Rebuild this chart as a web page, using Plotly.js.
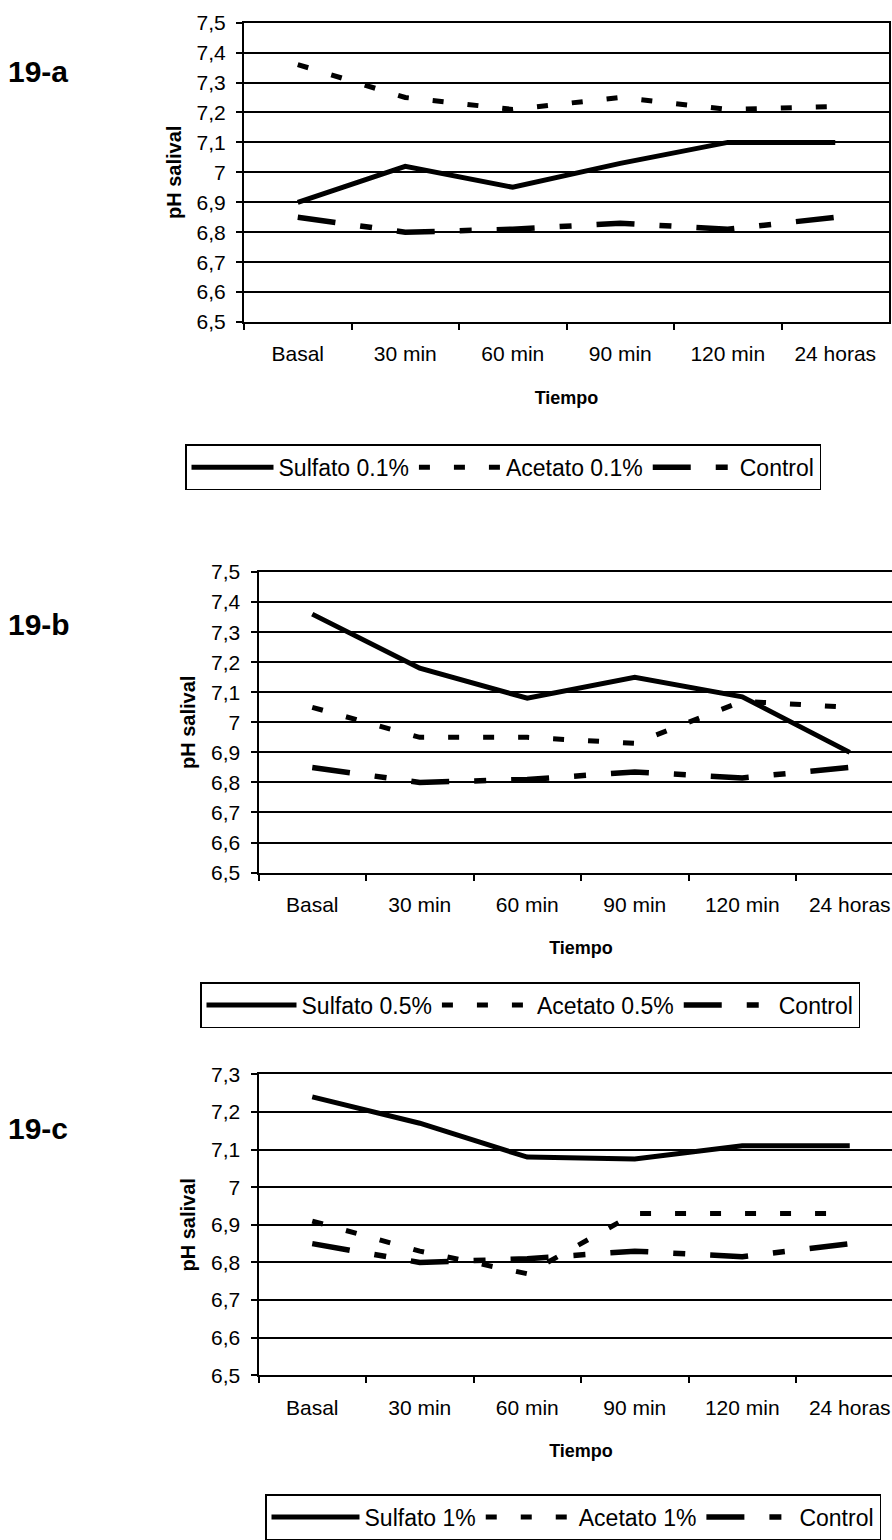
<!DOCTYPE html>
<html>
<head>
<meta charset="utf-8">
<script src="https://cdn.plot.ly/plotly-3.0.1.min.js"></script>
<style>
html,body{margin:0;padding:0;overflow:hidden;background:#fff;}
#chart{width:910px;height:1540px;}
</style>
</head>
<body>
<div id="chart"></div>
<script>
// ---- data ----
const categories = ["Basal", "30 min", "60 min", "90 min", "120 min", "24 horas"];

const sulfato01 = [6.90, 7.02, 6.95, 7.03, 7.10, 7.10];
const acetato01 = [7.36, 7.25, 7.21, 7.25, 7.21, 7.22];
const control01 = [6.85, 6.80, 6.81, 6.83, 6.81, 6.85];

const sulfato05 = [7.36, 7.18, 7.08, 7.15, 7.085, 6.90];
const acetato05 = [7.05, 6.95, 6.95, 6.93, 7.07, 7.05];
const control05 = [6.85, 6.80, 6.81, 6.835, 6.815, 6.85];

const sulfato1 = [7.24, 7.17, 7.08, 7.075, 7.11, 7.11];
const acetato1 = [6.91, 6.83, 6.77, 6.93, 6.93, 6.93];
const control1 = [6.85, 6.80, 6.81, 6.83, 6.815, 6.85];

const seriesNamesA = ["Sulfato 0.1%", "Acetato 0.1%", "Control"];
const seriesNamesB = ["Sulfato 0.5%", "Acetato 0.5%", "Control"];
const seriesNamesC = ["Sulfato 1%", "Acetato 1%", "Control"];

const yTickValsAB = [6.5, 6.6, 6.7, 6.8, 6.9, 7.0, 7.1, 7.2, 7.3, 7.4, 7.5];
const yTickTextAB = ["6,5", "6,6", "6,7", "6,8", "6,9", "7", "7,1", "7,2", "7,3", "7,4", "7,5"];
const yTickValsC = [6.5, 6.6, 6.7, 6.8, 6.9, 7.0, 7.1, 7.2, 7.3];
const yTickTextC = ["6,5", "6,6", "6,7", "6,8", "6,9", "7", "7,1", "7,2", "7,3"];

const panelLabels = ["19-a", "19-b", "19-c"];
const xTitle = "Tiempo";
const yTitle = "pH salival";

// ---- layout helpers ----
const W = 910, H = 1540;
const FONT = "Liberation Sans, Arial, sans-serif";
function fy(px) { return 1 - px / H; }
function fx(px) { return px / W; }

const styles = [
  {color: "#000", width: 5, dash: "solid"},
  {color: "#000", width: 5, dash: "11px,24px"},
  {color: "#000", width: 5.5, dash: "38px,25px,12px,25px"}
];

const traces = [];
function addSeries(vals, names, ax, leg) {
  vals.forEach((v, i) => {
    traces.push({
      type: "scatter", mode: "lines",
      x: categories, y: v, name: names[i],
      xaxis: "x" + ax, yaxis: "y" + ax,
      legend: leg,
      line: Object.assign({}, styles[i]),
      hoverinfo: "skip"
    });
  });
}
addSeries([sulfato01, acetato01, control01], seriesNamesA, "", "legend");
addSeries([sulfato05, acetato05, control05], seriesNamesB, "2", "legend2");
addSeries([sulfato1, acetato1, control1], seriesNamesC, "3", "legend3");

function xAxis(domain, anchor) {
  return {
    domain: domain, anchor: anchor, type: "category",
    range: [-0.5, 5.5],
    showline: true, linecolor: "#000", linewidth: 2, mirror: true,
    ticks: "outside", tickson: "boundaries", ticklen: 6, tickwidth: 2, tickcolor: "#000",
    showgrid: false, zeroline: false,
    tickfont: {family: FONT, size: 21, color: "#000"},
    ticklabelstandoff: 12,
    title: {text: xTitle, font: {family: FONT, size: 18, color: "#000", weight: "bold"}, standoff: 27},
    fixedrange: true
  };
}
function yAxis(domain, anchor, range, tv, tt) {
  return {
    domain: domain, anchor: anchor, range: range,
    tickvals: tv, ticktext: tt,
    showline: true, linecolor: "#000", linewidth: 2, mirror: true,
    ticks: "outside", ticklen: 6, tickwidth: 2, tickcolor: "#000",
    showgrid: true, gridcolor: "#000", gridwidth: 2,
    zeroline: false,
    tickfont: {family: FONT, size: 21, color: "#000"},
    ticklabelstandoff: 6,
    title: {text: yTitle, font: {family: FONT, size: 20, color: "#000", weight: "bold"}, standoff: 10},
    fixedrange: true
  };
}

function legendBox(xpx, ypx, iw) {
  return {
    orientation: "h", x: fx(xpx), y: fy(ypx), xanchor: "left", yanchor: "top",
    xref: "paper", yref: "paper",
    bordercolor: "#000", borderwidth: 1.5, bgcolor: "#fff",
    font: {family: FONT, size: 23, color: "#000"},
    itemwidth: iw, tracegroupgap: 0, itemclick: false, itemdoubleclick: false
  };
}

const layout = {
  width: W, height: H,
  margin: {l: 0, r: 0, t: 0, b: 0},
  paper_bgcolor: "#fff", plot_bgcolor: "#fff",
  font: {family: FONT, color: "#000"},
  showlegend: true,
  xaxis: xAxis([fx(244), fx(889)], "y"),
  yaxis: yAxis([fy(323.3), fy(22.7)], "x", [6.5, 7.5], yTickValsAB, yTickTextAB),
  xaxis2: xAxis([fx(258.5), fx(903.5)], "y2"),
  yaxis2: yAxis([fy(876), fy(574.3)], "x2", [6.5, 7.5], yTickValsAB, yTickTextAB),
  xaxis3: xAxis([fx(258.5), fx(903.5)], "y3"),
  yaxis3: yAxis([fy(1380.7), fy(1078.5)], "x3", [6.5, 7.3], yTickValsC, yTickTextC),
  legend: legendBox(185, 446, 82),
  legend2: legendBox(200, 986, 90),
  legend3: legendBox(265, 1500, 88),
  annotations: [
    {text: panelLabels[0], x: fx(6), y: fy(72), xanchor: "left", yanchor: "middle"},
    {text: panelLabels[1], x: fx(6), y: fy(627), xanchor: "left", yanchor: "middle"},
    {text: panelLabels[2], x: fx(6), y: fy(1133), xanchor: "left", yanchor: "middle"}
  ].map(a => Object.assign(a, {xref: "paper", yref: "paper", showarrow: false,
      font: {family: FONT, size: 30, color: "#000", weight: "bold"}}))
};

Plotly.newPlot("chart", traces, layout, {staticPlot: true, displayModeBar: false});
</script>
</body>
</html>
